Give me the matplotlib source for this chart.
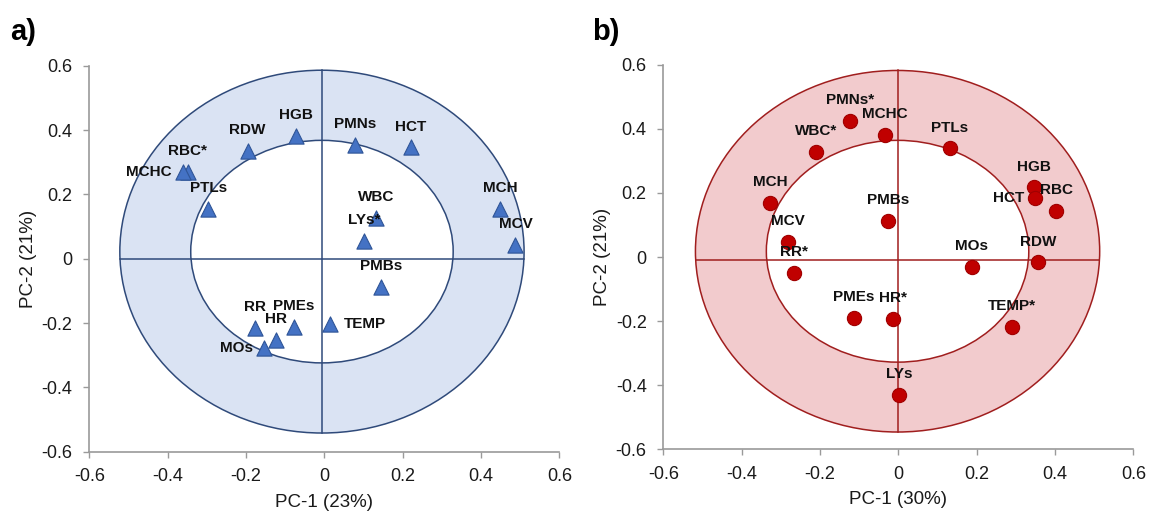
import numpy as np
import matplotlib
matplotlib.use('Agg')
import matplotlib.pyplot as plt
from matplotlib.patches import Ellipse

plt.rcParams['font.family'] = ['Liberation Sans', 'DejaVu Sans']

# panel a) - PC-1 (23%) / PC-2 (21%)
labels_a = ['HGB', 'RDW', 'RBC*', 'MCHC', 'PTLs', 'PMNs', 'HCT', 'WBC', 'LYs*',
            'MCH', 'MCV', 'PMBs', 'TEMP', 'PMEs', 'RR', 'HR', 'MOs']
pc1_a = [-0.073, -0.196, -0.349, -0.362, -0.296, 0.078, 0.221, 0.132, 0.101,
         0.449, 0.488, 0.144, 0.014, -0.077, -0.178, -0.124, -0.153]
pc2_a = [0.382, 0.334, 0.270, 0.270, 0.154, 0.354, 0.346, 0.126, 0.056,
         0.154, 0.043, -0.089, -0.202, -0.212, -0.215, -0.252, -0.278]

# panel b) - PC-1 (30%) / PC-2 (21%)
labels_b = ['PMNs*', 'MCHC', 'WBC*', 'PTLs', 'MCH', 'PMBs', 'HGB', 'HCT', 'RBC',
            'MCV', 'RR*', 'MOs', 'RDW', 'PMEs', 'HR*', 'TEMP*', 'LYs']
pc1_b = [-0.124, -0.034, -0.209, 0.131, -0.327, -0.027, 0.346, 0.349, 0.403,
         -0.281, -0.267, 0.188, 0.356, -0.113, -0.013, 0.290, 0.002]
pc2_b = [0.425, 0.382, 0.328, 0.339, 0.169, 0.112, 0.217, 0.185, 0.145,
         0.048, -0.049, -0.030, -0.017, -0.189, -0.192, -0.218, -0.431]

ticks = [-0.6, -0.4, -0.2, 0, 0.2, 0.4, 0.6]
tick_labels = ['-0.6', '-0.4', '-0.2', '0', '0.2', '0.4', '0.6']

# label placement (default above the marker)
side_a = {'MCHC': 'left', 'MOs': 'left', 'TEMP': 'right'}
side_b = {'HCT': 'left'}

fig = plt.figure(figsize=(11.49, 5.11), dpi=100)
ax_a = fig.add_axes([0.0777, 0.1161, 0.4091, 0.7553])
ax_b = fig.add_axes([0.5773, 0.1207, 0.4091, 0.7527])


def draw_panel(ax, xs, ys, names, sides, marker, mcolor, medge, fill, edge,
               center, hline_y, xlabel):
    cx, cy = center
    ow, oh = 0.516, 0.564
    iw, ih = 0.335, 0.346
    ax.add_patch(Ellipse((cx, cy), 2 * ow, 2 * oh, facecolor=fill,
                         edgecolor=edge, lw=1.1, zorder=1))
    ax.add_patch(Ellipse((cx, cy), 2 * iw, 2 * ih, facecolor='white',
                         edgecolor=edge, lw=1.1, zorder=2))
    # axis cross inside the outer ring
    ax.plot([cx, cx], [cy - oh, cy + oh], color=edge, lw=1.1, zorder=3)
    half = ow * np.sqrt(1 - ((hline_y - cy) / oh) ** 2)
    ax.plot([cx - half, cx + half], [hline_y, hline_y], color=edge, lw=1.1,
            zorder=3)

    ax.scatter(xs, ys, marker=marker, s=105 if marker == 'o' else 120,
               color=mcolor, edgecolors=medge, linewidths=0.8, zorder=4)
    for x, y, n in zip(xs, ys, names):
        side = sides.get(n, 'above')
        if side == 'left':
            off, ha, va = (-8, 0), 'right', 'center'
        elif side == 'right':
            off, ha, va = (10, 0), 'left', 'center'
        else:
            off, ha, va = (0, 15), 'center', 'center'
        ax.annotate(n, (x, y), xytext=off, textcoords='offset points',
                    ha=ha, va=va, fontsize=11, fontweight='bold',
                    color='#111111', zorder=5)

    ax.set_xlim(-0.6, 0.6)
    ax.set_ylim(-0.6, 0.6)
    ax.set_xticks(ticks)
    ax.set_yticks(ticks)
    ax.set_xticklabels(tick_labels)
    ax.set_yticklabels(tick_labels)
    ax.tick_params(labelsize=13, length=4.5, width=1, color='#9a9a9a',
                   labelcolor='#1a1a1a', pad=7.5)
    for s in ['top', 'right']:
        ax.spines[s].set_visible(False)
    for s in ['left', 'bottom']:
        ax.spines[s].set_color('#9a9a9a')
        ax.spines[s].set_linewidth(1.2)
    ax.set_xlabel(xlabel, fontsize=13.5, color='#1a1a1a', labelpad=6)
    ax.set_ylabel('PC-2 (21%)', fontsize=13.5, color='#1a1a1a', labelpad=3)
    ax.set_facecolor('none')


draw_panel(ax_a, pc1_a, pc2_a, labels_a, side_a, '^', '#4472C4', '#2F5597',
           '#DAE3F3', '#2F4A7A', (-0.006, 0.022), 0.0, 'PC-1 (23%)')
draw_panel(ax_b, pc1_b, pc2_b, labels_b, side_b, 'o', '#C00000', '#A00000',
           '#F2CBCD', '#A01E1E', (-0.002, 0.018), -0.009, 'PC-1 (30%)')

fig.text(0.009, 0.937, 'a)', fontsize=21, fontweight='bold', va='center')
fig.text(0.515, 0.937, 'b)', fontsize=21, fontweight='bold', va='center')

fig.savefig('out.png', dpi=100)
